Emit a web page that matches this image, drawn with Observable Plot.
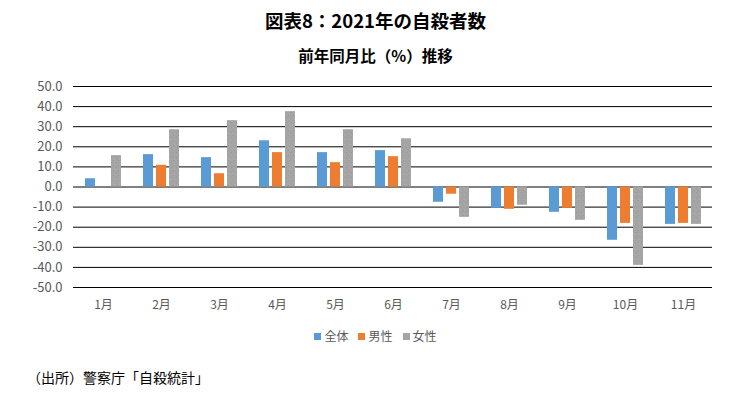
<!DOCTYPE html>
<html><head><meta charset="utf-8">
<script src="https://cdn.jsdelivr.net/npm/d3@7"></script>
<script src="https://cdn.jsdelivr.net/npm/@observablehq/plot@0.6"></script>
<style>
body{margin:0;background:#fff;font-family:"Noto Sans CJK JP",sans-serif;}
#wrap{position:relative;width:751px;height:394px;overflow:hidden;}
#title{position:absolute;top:8px;left:0;width:751px;text-align:center;font-size:18.5px;font-weight:bold;color:#000;line-height:24px;}
#sub{position:absolute;top:45px;left:0;width:751px;text-align:center;font-size:15.5px;font-weight:bold;color:#000;line-height:20px;}
#chart{position:absolute;top:70px;left:0;}
#legend{position:absolute;top:327px;left:0;width:751px;text-align:center;font-size:12px;color:#595959;line-height:18px;}
#legend span.it{margin:0 5px;}
#legend i{display:inline-block;width:7px;height:7px;margin-right:3px;vertical-align:1px;}
#cap{position:absolute;top:367px;left:27px;font-size:14px;color:#000;line-height:20px;}
</style></head>
<body><div id="wrap">
<div id="title">図表8：2021年の自殺者数</div>
<div id="sub">前年同月比（%）推移</div>
<div id="chart"></div>
<div id="legend"></div>
<div id="cap">（出所）警察庁「自殺統計」</div>
</div>
<script>
const months = ["1月","2月","3月","4月","5月","6月","7月","8月","9月","10月","11月"];
const seriesNames = ["全体","男性","女性"];
const seriesColors = ["#5B9BD5","#ED7D31","#A5A5A5"];
const total = [4.1,16.1,14.6,23.0,17.1,18.1,-7.6,-10.6,-12.6,-26.5,-18.6];
const male = [0.0,10.8,6.6,17.1,12.1,15.1,-3.6,-11.1,-10.6,-18.1,-18.1];
const female = [15.6,28.5,33.0,37.5,28.5,24.0,-15.1,-9.1,-16.6,-39.0,-18.6];
const yTicks = [-50,-40,-30,-20,-10,0,10,20,30,40,50];

const seriesValues = [total, male, female];
const offsets = [-13, 0, 13];
const fills = [seriesColors[0], seriesColors[1], "url(#dots)"];

const marks = [
  Plot.ruleY(yTicks, {stroke: "#000", strokeWidth: 1})
];
seriesValues.forEach((vals, i) => {
  const data = months.map((m, j) => ({month: m, value: vals[j]}));
  marks.push(Plot.barY(data, {x: "month", y: "value", fill: fills[i], dx: offsets[i], insetLeft: 24, insetRight: 24}));
});

const plot = Plot.plot({
  width: 751,
  height: 247,
  marginTop: 16,
  marginLeft: 73,
  marginRight: 39,
  marginBottom: 30,
  style: {fontFamily: '"Noto Sans CJK JP", sans-serif', fontSize: "12px", color: "#595959", background: "transparent"},
  x: {domain: months, padding: 0, tickSize: 0, tickPadding: 13, label: null},
  y: {domain: [-50, 50], ticks: yTicks, tickSize: 0, tickPadding: 11, label: null, tickFormat: d => d.toFixed(1)},
  marks
});
plot.querySelectorAll("g[aria-label='y-axis tick label']").forEach(e => e.setAttribute("font-size", "13px"));
const ns = "http://www.w3.org/2000/svg";
const defs = document.createElementNS(ns, "defs");
defs.innerHTML = '<pattern id="dots" width="5" height="5" patternUnits="userSpaceOnUse"><rect width="5" height="5" fill="#A5A5A5"/><rect x="0" y="0" width="1" height="1" fill="#999"/><rect x="3" y="2" width="1" height="1" fill="#999"/><rect x="1" y="4" width="1" height="1" fill="#b0b0b0"/></pattern>';
plot.insertBefore(defs, plot.firstChild);
document.getElementById("chart").appendChild(plot);

const lg = document.getElementById("legend");
seriesNames.forEach((n, i) => {
  const s = document.createElement("span");
  s.className = "it";
  s.innerHTML = `<i style="background:${seriesColors[i]}"></i>${n}`;
  lg.appendChild(s);
});
</script>
</body></html>
